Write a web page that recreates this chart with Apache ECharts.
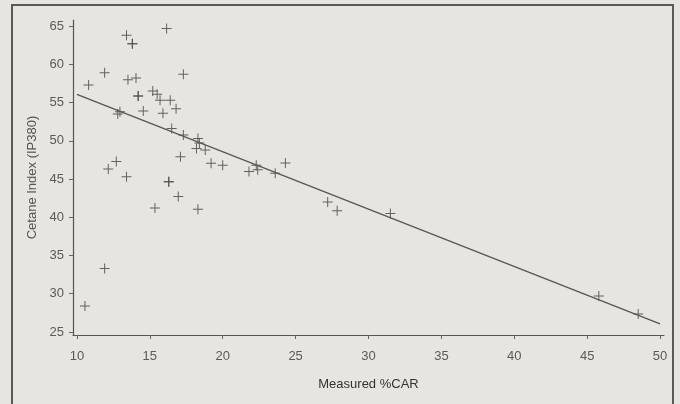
<!DOCTYPE html>
<html>
<head>
<meta charset="utf-8">
<script src="https://cdn.jsdelivr.net/npm/echarts@6/dist/echarts.min.js"></script>
<style>
html,body{margin:0;padding:0;background:#e6e5df;}
#c{width:680px;height:404px;}
</style>
</head>
<body>
<div id="c"></div>
<script>
// Measured %CAR (x) vs Cetane Index IP380 (y)
const carValues = [16.15,13.4,13.8,13.8,11.9,17.3,13.5,14.05,10.8,14.2,14.2,15.2,15.5,15.7,16.4,16.8,14.55,15.9,12.95,12.8,
  16.5,17.3,18.3,18.4,18.2,18.8,17.1,19.2,20.0,22.3,21.8,22.4,23.6,24.3,16.3,16.3,16.95,15.35,18.3,
  12.7,12.15,13.4,11.9,10.55,27.2,27.85,31.5,45.8,48.5];
const cetaneValues = [64.7,63.8,62.7,62.7,58.9,58.7,58.0,58.2,57.3,55.85,55.85,56.5,56.1,55.3,55.3,54.2,53.9,53.6,53.8,53.5,
  51.6,50.75,50.3,49.7,49.0,48.8,47.9,47.05,46.8,46.8,46.0,46.2,45.75,47.1,44.65,44.65,42.7,41.2,41.05,
  47.3,46.3,45.3,33.3,28.4,42.0,40.85,40.5,29.7,27.35];
const fitX = [10, 50];
const fitY = [56.07, 26.05];
const xTicks = [10,15,20,25,30,35,40,45,50];
const yTicks = [25,30,35,40,45,50,55,60,65];

const pts = carValues.map((v,i)=>[v,cetaneValues[i]]);
const fit = fitX.map((v,i)=>[v,fitY[i]]);
const plus = 'path://M4.5,0h1v4.5h4.5v1h-4.5v4.5h-1v-4.5h-4.5v-1h4.5z';
const font = 'Liberation Sans, Arial, sans-serif';

const chart = echarts.init(document.getElementById('c'));
chart.setOption({
  backgroundColor: '#e6e5df',
  animation: false,
  grid: {left: 73, right: 16, top: 20, bottom: 69},
  graphic: [{
    type: 'rect', silent: true, z: -1,
    shape: {x: 12, y: 5, width: 661, height: 430},
    style: {fill: 'none', stroke: '#5a5a58', lineWidth: 2}
  }],
  xAxis: {
    type: 'value', min: 9.73, max: 50.27,
    name: 'Measured %CAR', nameLocation: 'middle', nameGap: 43,
    nameTextStyle: {color: '#333', fontSize: 13, fontFamily: font},
    axisLine: {lineStyle: {color: '#555', width: 1.2}},
    axisTick: {show: true, length: 4, customValues: xTicks, lineStyle: {color: '#666'}},
    axisLabel: {customValues: xTicks, color: '#5a5a5a', fontSize: 13, fontFamily: font, margin: 15},
    splitLine: {show: false}
  },
  yAxis: {
    type: 'value', min: 24.6, max: 65.8,
    name: 'Cetane Index (IP380)', nameLocation: 'middle', nameGap: 31,
    nameTextStyle: {color: '#555', fontSize: 13, fontFamily: font},
    axisLine: {show: true, lineStyle: {color: '#555', width: 1.2}},
    axisTick: {show: true, length: 4, customValues: yTicks, lineStyle: {color: '#666'}},
    axisLabel: {customValues: yTicks, color: '#5a5a5a', fontSize: 13, fontFamily: font, margin: 9},
    splitLine: {show: false}
  },
  series: [
    {
      type: 'scatter', data: pts, symbol: plus, symbolSize: 10,
      itemStyle: {color: '#4a4a48', opacity: 0.85}
    },
    {
      type: 'line', data: fit, symbol: 'none',
      lineStyle: {color: '#555', width: 1.2}
    }
  ]
});
</script>
</body>
</html>
